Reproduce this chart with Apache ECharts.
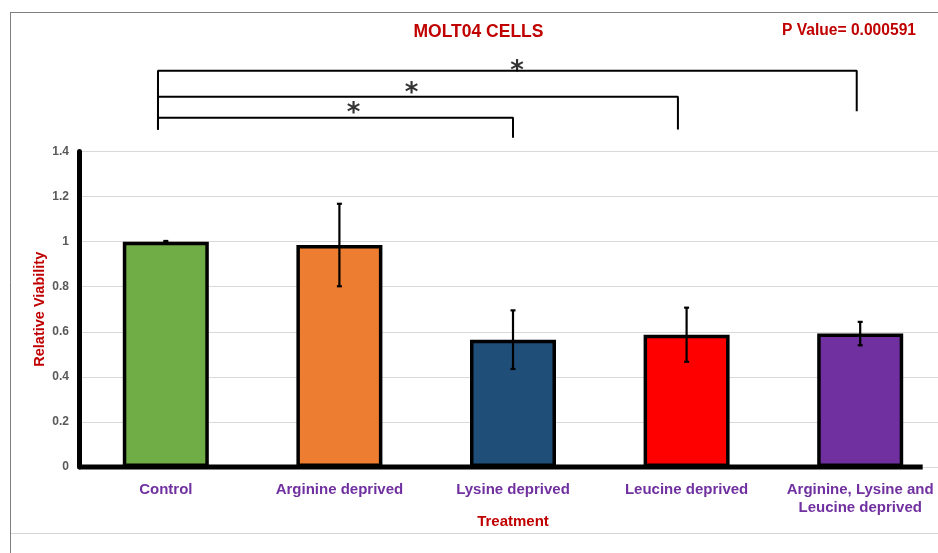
<!DOCTYPE html>
<html>
<head>
<meta charset="utf-8">
<title>MOLT04 cells</title>
<script src="https://cdn.jsdelivr.net/npm/echarts@6/dist/echarts.min.js"></script>
<style>
  html, body { margin: 0; padding: 0; background: #fff; }
  #chart { width: 938px; height: 553px; }
</style>
</head>
<body>
<div id="chart"></div>
<script>
// data
const categories = [
  "Control",
  "Arginine deprived",
  "Lysine deprived",
  "Leucine deprived",
  "Arginine, Lysine and\nLeucine deprived",
];
const viability = [1.0, 0.985, 0.565, 0.587, 0.592];
const errors = [0.003, 0.183, 0.13, 0.12, 0.052];
const barColors = ["#70AD47", "#ED7D31", "#1F4E79", "#FF0000", "#7030A0"];
const yMin = 0;
const yMax = 1.4;
const yStep = 0.2;

// significance brackets, x in category units, y in viability units
const bracketFrom = [-0.045, -0.045, -0.045];
const bracketTo = [2.0, 2.95, 3.98];
const bracketY = [1.55, 1.643, 1.758];
const bracketLeftEnd = [1.498, 1.498, 1.498];
const bracketRightEnd = [1.461, 1.498, 1.579];
const starX = [1.081, 1.415, 2.023];
const starY = [1.596, 1.683, 1.783];
const baselineEnd = 4.36;

const red = "#C00000";
const purple = "#7030A0";
const font = "Liberation Sans, Arial, sans-serif";

let chart = echarts.init(document.getElementById("chart"));

let bracketSeries = bracketFrom.map((from, i) => ({
  type: "line",
  xAxisIndex: 1,
  clip: false,
  symbol: "none",
  silent: true,
  z: 5,
  lineStyle: { color: "#000", width: 2 },
  data: [
    [from, bracketLeftEnd[i]],
    [from, bracketY[i]],
    [bracketTo[i], bracketY[i]],
    [bracketTo[i], bracketRightEnd[i]],
  ],
}));

let option = {
  backgroundColor: "#fff",
  animation: false,
  textStyle: { fontFamily: font },
  grid: {
    left: 79,
    top: 151.5,
    width: 868,
    height: 315.5,
    containLabel: false,
    outerBoundsMode: "none",
  },
  xAxis: [
    {
      type: "category",
      data: categories,
      axisLine: { show: false },
      axisTick: { show: false },
      axisLabel: {
        interval: 0,
        margin: 14,
        color: purple,
        fontWeight: "bold",
        fontSize: 15,
        lineHeight: 18,
        fontFamily: font,
      },
      name: "Treatment",
      nameLocation: "middle",
      nameGap: 47,
      nameMoveOverlap: false,
      nameTextStyle: { color: red, fontWeight: "bold", fontSize: 15, fontFamily: font },
    },
    { type: "value", min: -0.5, max: 4.5, show: false },
  ],
  yAxis: {
    type: "value",
    min: yMin,
    max: yMax,
    interval: yStep,
    axisLine: { show: true, onZero: false, lineStyle: { color: "#000", width: 5 } },
    axisTick: { show: false },
    axisLabel: {
      margin: 10,
      color: "#595959",
      fontWeight: "bold",
      fontSize: 12,
      fontFamily: font,
    },
    splitLine: { lineStyle: { color: "#d9d9d9", width: 1 } },
    name: "Relative Viability",
    nameLocation: "middle",
    nameGap: 32,
    nameMoveOverlap: false,
    nameTextStyle: { color: red, fontWeight: "bold", fontSize: 14.5, fontFamily: font },
  },
  graphic: [
    {
      type: "line",
      silent: true,
      shape: { x1: 10.5, y1: 12, x2: 10.5, y2: 553 },
      style: { stroke: "#7f7f7f", lineWidth: 1 },
    },
    {
      type: "line",
      silent: true,
      shape: { x1: 10, y1: 12.5, x2: 938, y2: 12.5 },
      style: { stroke: "#7f7f7f", lineWidth: 1 },
    },
    {
      type: "line",
      silent: true,
      shape: { x1: 11, y1: 533.5, x2: 938, y2: 533.5 },
      style: { stroke: "#d4d4d4", lineWidth: 1 },
    },
    {
      type: "text",
      x: 478.5,
      y: 32,
      style: {
        text: "MOLT04 CELLS",
        fill: red,
        font: "bold 17.5px " + font,
        align: "center",
        verticalAlign: "middle",
      },
    },
    {
      type: "text",
      x: 849,
      y: 31,
      style: {
        text: "P Value= 0.000591",
        fill: red,
        font: "bold 15.6px " + font,
        align: "center",
        verticalAlign: "middle",
      },
    },
  ],
  series: [
    {
      type: "bar",
      barWidth: 86,
      data: viability.map((v, i) => ({
        value: v,
        itemStyle: { color: barColors[i] },
      })),
      itemStyle: { borderColor: "#000", borderWidth: 3.5 },
      z: 2,
    },
    {
      type: "custom",
      z: 4,
      data: viability.map((v, i) => [i, v - errors[i], v + errors[i]]),
      renderItem: function (params, api) {
        let lo = api.coord([api.value(0), api.value(1)]);
        let hi = api.coord([api.value(0), api.value(2)]);
        let cap = 2.5;
        let style = { stroke: "#000", lineWidth: 2.2 };
        return {
          type: "group",
          children: [
            { type: "line", shape: { x1: hi[0], y1: hi[1], x2: lo[0], y2: lo[1] }, style: style },
            { type: "line", shape: { x1: hi[0] - cap, y1: hi[1], x2: hi[0] + cap, y2: hi[1] }, style: style },
            { type: "line", shape: { x1: lo[0] - cap, y1: lo[1], x2: lo[0] + cap, y2: lo[1] }, style: style },
          ],
        };
      },
    },
    {
      type: "line",
      xAxisIndex: 1,
      symbol: "none",
      silent: true,
      clip: false,
      z: 6,
      lineStyle: { color: "#000", width: 5 },
      data: [
        [-0.5, 0],
        [baselineEnd, 0],
      ],
    },
    ...bracketSeries,
    {
      type: "scatter",
      xAxisIndex: 1,
      clip: false,
      symbolSize: 0,
      silent: true,
      data: starX.map((x, i) => [x, starY[i]]),
      label: {
        show: true,
        position: "inside",
        formatter: "*",
        color: "#000",
        fontSize: 26,
        fontWeight: "bold",
        fontFamily: "DejaVu Sans, sans-serif",
        offset: [0, 7],
      },
    },
  ],
};

option && chart.setOption(option);
</script>
</body>
</html>
